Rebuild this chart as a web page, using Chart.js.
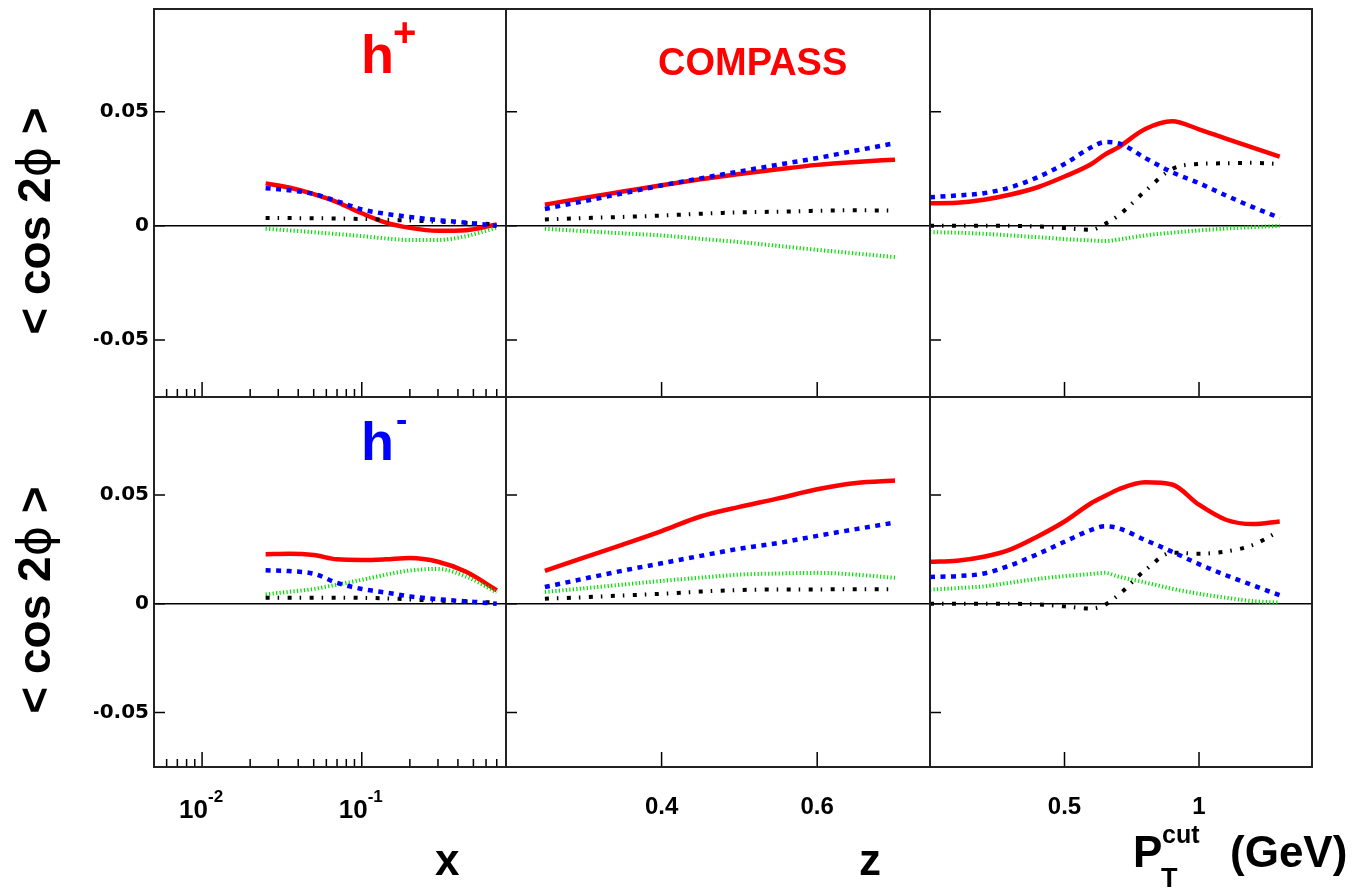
<!DOCTYPE html>
<html>
<head>
<meta charset="utf-8">
<script src="https://cdn.jsdelivr.net/npm/chart.js@4"></script>
<style>
  body { margin: 0; background: #fff; }
  #page { position: relative; width: 1352px; height: 890px; overflow: hidden;
          font-family: "Liberation Sans", Arial, sans-serif; font-weight: bold; }
  #page canvas { position: absolute; left: 0; top: 0; }
  .txt { position: absolute; line-height: 1; white-space: nowrap; }
  .ytitle { position: absolute; line-height: 1; white-space: nowrap; font-size: 46px;
            transform: translate(-50%, -50%) rotate(-90deg); }
  .ytitle .phi { font-family: "DejaVu Sans", sans-serif; font-weight: normal; }
</style>
</head>
<body>
<div id="page">
  <canvas id="p0" width="1352" height="890"></canvas>
  <canvas id="p1" width="1352" height="890"></canvas>
  <canvas id="p2" width="1352" height="890"></canvas>
  <canvas id="p3" width="1352" height="890"></canvas>
  <canvas id="p4" width="1352" height="890"></canvas>
  <canvas id="p5" width="1352" height="890"></canvas>

  <div class="txt" style="left:361px; top:27px; font-size:54px; color:#ff0000;">h</div>
  <div class="txt" style="left:393px; top:12px; font-size:40px; color:#ff0000;">+</div>
  <div class="txt" style="left:658px; top:43px; font-size:38px; color:#ff0000;">COMPASS</div>
  <div class="txt" style="left:361px; top:414px; font-size:54px; color:#0000ff;">h</div>
  <div class="txt" style="left:396px; top:402px; font-size:34px; color:#0000ff;">-</div>

  <div class="ytitle" style="left:34px; top:221px;">&lt; cos 2<span class="phi">ϕ</span> &gt;</div>
  <div class="ytitle" style="left:34px; top:600px;">&lt; cos 2<span class="phi">ϕ</span> &gt;</div>

  <div class="txt" style="left:435px; top:838px; font-size:44px;">x</div>
  <div class="txt" style="left:859px; top:838px; font-size:44px;">z</div>
  <div class="txt" style="left:1133px; top:830px; font-size:44px;">P</div>
  <div class="txt" style="left:1162px; top:822px; font-size:25px;">cut</div>
  <div class="txt" style="left:1161px; top:865px; font-size:27px;">T</div>
  <div class="txt" style="left:1230px; top:830px; font-size:44px;">(GeV)</div>
</div>
<script>
// ---- data ----
const xGrid  = [0.025, 0.035, 0.05, 0.07, 0.1, 0.14, 0.2, 0.3, 0.45, 0.7];
const zGrid  = [0.25, 0.30, 0.35, 0.40, 0.45, 0.50, 0.55, 0.60, 0.65, 0.70];
const ptGrid = [0, 0.1, 0.2, 0.3, 0.4, 0.5, 0.6, 0.65, 0.7, 0.8, 0.9, 1.0, 1.1, 1.2, 1.3];

// h+ vs x
const xPlusRed   = [0.0186, 0.0168, 0.0139, 0.0104, 0.0055, 0.0015, -0.0009, -0.0022, -0.0019, 0.0006];
const xPlusBlue  = [0.0165, 0.0156, 0.0140, 0.0108, 0.0072, 0.0053, 0.0039, 0.0025, 0.0014, 0.0000];
const xPlusBlack = [0.0034, 0.0034, 0.0033, 0.0032, 0.0030, 0.0027, 0.0023, 0.0018, 0.0013, 0.0007];
const xPlusGreen = [-0.0013, -0.0020, -0.0028, -0.0036, -0.0045, -0.0055, -0.0062, -0.0062, -0.0045, -0.0008];

// h+ vs z
const zPlusRed   = [0.0093, 0.0122, 0.0150, 0.0178, 0.0204, 0.0227, 0.0248, 0.0267, 0.0280, 0.0290];
const zPlusBlue  = [0.0074, 0.0108, 0.0142, 0.0177, 0.0208, 0.0238, 0.0268, 0.0297, 0.0330, 0.0362];
const zPlusBlack = [0.0028, 0.0034, 0.0039, 0.0045, 0.0053, 0.0059, 0.0062, 0.0066, 0.0068, 0.0067];
const zPlusGreen = [-0.0013, -0.0023, -0.0033, -0.0042, -0.0057, -0.0071, -0.0088, -0.0105, -0.0121, -0.0137];

// h+ vs PT cut
const ptPlusRed   = [0.0099, 0.0101, 0.0114, 0.0137, 0.0169, 0.0216, 0.0271, 0.0312, 0.0344, 0.0424, 0.0458, 0.0423, 0.0382, 0.0343, 0.0303];
const ptPlusBlue  = [0.0125, 0.0133, 0.0143, 0.0169, 0.0213, 0.0271, 0.0344, 0.0367, 0.0362, 0.0297, 0.0235, 0.0187, 0.0133, 0.0082, 0.0035];
const ptPlusBlack = [0.0000, 0.0000, 0.0000, 0.0000, -0.0003, -0.0010, -0.0017, 0.0008, 0.0045, 0.0152, 0.0249, 0.0271, 0.0274, 0.0276, 0.0271];
const ptPlusGreen = [-0.0028, -0.0030, -0.0035, -0.0042, -0.0050, -0.0058, -0.0064, -0.0067, -0.0060, -0.0042, -0.0030, -0.0020, -0.0012, -0.0006, 0.0000];

// h- vs x
const xMinusRed   = [0.0228, 0.0230, 0.0224, 0.0204, 0.0201, 0.0204, 0.0210, 0.0193, 0.0147, 0.0062];
const xMinusBlue  = [0.0154, 0.0150, 0.0138, 0.0096, 0.0068, 0.0052, 0.0034, 0.0021, 0.0011, 0.0000];
const xMinusBlack = [0.0028, 0.0028, 0.0028, 0.0028, 0.0027, 0.0025, 0.0020, 0.0014, 0.0011, 0.0005];
const xMinusGreen = [0.0043, 0.0055, 0.0068, 0.0088, 0.0110, 0.0133, 0.0153, 0.0160, 0.0125, 0.0052];

// h- vs z
const zMinusRed   = [0.0151, 0.0212, 0.0272, 0.0334, 0.0401, 0.0445, 0.0484, 0.0526, 0.0555, 0.0566];
const zMinusBlue  = [0.0077, 0.0115, 0.0152, 0.0186, 0.0220, 0.0253, 0.0279, 0.0312, 0.0343, 0.0373];
const zMinusBlack = [0.0023, 0.0030, 0.0038, 0.0046, 0.0056, 0.0063, 0.0066, 0.0066, 0.0067, 0.0067];
const zMinusGreen = [0.0054, 0.0071, 0.0088, 0.0105, 0.0120, 0.0134, 0.0139, 0.0142, 0.0134, 0.0119];

// h- vs PT cut
const ptMinusRed   = [0.0193, 0.0198, 0.0216, 0.0250, 0.0309, 0.0378, 0.0463, 0.0495, 0.0525, 0.0558, 0.0548, 0.0455, 0.0386, 0.0366, 0.0378];
const ptMinusBlue  = [0.0123, 0.0127, 0.0139, 0.0177, 0.0228, 0.0285, 0.0340, 0.0356, 0.0347, 0.0293, 0.0239, 0.0182, 0.0131, 0.0085, 0.0039];
const ptMinusBlack = [0.0000, 0.0000, 0.0000, 0.0000, -0.0003, -0.0012, -0.0022, -0.0005, 0.0040, 0.0154, 0.0235, 0.0230, 0.0240, 0.0270, 0.0336];
const ptMinusGreen = [0.0065, 0.0072, 0.0080, 0.0097, 0.0114, 0.0127, 0.0137, 0.0142, 0.0125, 0.0098, 0.0069, 0.0046, 0.0028, 0.0012, 0.0005];

// ticks
const yTickVals = [-0.05, 0, 0.05];
const xMajorTicks = [0.01, 0.1];
const xTickExponents = ['-2', '-1'];
const xMinorTicks = [0.005, 0.006, 0.007, 0.008, 0.009,
                     0.02, 0.03, 0.04, 0.05, 0.06, 0.07, 0.08, 0.09,
                     0.2, 0.3, 0.4, 0.5, 0.6, 0.7];
const zTicks = [0.4, 0.6];
const zTickLabels = ['0.4', '0.6'];
const ptTicks = [0.5, 1];
const ptTickLabels = ['0.5', '1'];

// ---- layout of the 2x3 frame grid (pixels) ----
const colEdges = [154, 506, 930, 1312];
const rowEdges = [9, 397, 767];
const Y_MIN = -0.075, Y_MAX = 0.095;

// line styles
const styleRed   = { borderColor: '#ff0000', borderWidth: 4.5, borderDash: [] };
const styleBlue  = { borderColor: '#0000ff', borderWidth: 4.5, borderDash: [5, 5.5] };
const styleBlack = { borderColor: '#000000', borderWidth: 4, borderDash: [4, 8, 1.5, 8.5] };
const styleGreen = { borderColor: '#00e000', borderWidth: 4, borderDash: [1.2, 2.3] };

// frame, zero line, inward tick marks and 10^n labels
const framePlugin = {
  id: 'frame',
  beforeDatasetsDraw(chart) {
    const { ctx, chartArea: a } = chart;
    const y0 = chart.scales.y.getPixelForValue(0);
    ctx.save();
    ctx.strokeStyle = '#000';
    ctx.lineWidth = 1.5;
    ctx.beginPath();
    ctx.moveTo(a.left, y0);
    ctx.lineTo(a.right, y0);
    ctx.stroke();
    ctx.restore();
  },
  afterDraw(chart, args, opts) {
    const { ctx, chartArea: a } = chart;
    const xs = chart.scales.x, ys = chart.scales.y;
    ctx.save();
    ctx.strokeStyle = '#000';
    ctx.lineWidth = 1.5;
    ctx.beginPath();
    yTickVals.forEach(v => {
      const py = ys.getPixelForValue(v);
      ctx.moveTo(a.left, py);
      ctx.lineTo(a.left + 11, py);
    });
    opts.major.forEach(v => {
      const px = xs.getPixelForValue(v);
      ctx.moveTo(px, a.bottom);
      ctx.lineTo(px, a.bottom - 15);
    });
    opts.minor.forEach(v => {
      const px = xs.getPixelForValue(v);
      ctx.moveTo(px, a.bottom);
      ctx.lineTo(px, a.bottom - 8);
    });
    ctx.stroke();
    ctx.lineWidth = 2;
    ctx.strokeStyle = '#222';
    ctx.strokeRect(a.left, a.top, a.right - a.left, a.bottom - a.top);

    // 10^n labels under the log axis
    if (opts.showPow) {
      ctx.fillStyle = '#000';
      ctx.textAlign = 'left';
      ctx.textBaseline = 'alphabetic';
      opts.major.forEach((v, i) => {
        const px = xs.getPixelForValue(v);
        ctx.font = 'bold 26px "Liberation Sans", Arial, sans-serif';
        const w = ctx.measureText('10').width;
        ctx.fillText('10', px - 23, a.bottom + 51);
        ctx.font = 'bold 17px "Liberation Sans", Arial, sans-serif';
        ctx.fillText(opts.expo[i], px - 23 + w, a.bottom + 35);
      });
    }
    ctx.restore();
  }
};

function series(grid, vals, style) {
  return Object.assign({
    data: grid.map((x, i) => ({ x: x, y: vals[i] })),
    pointRadius: 0,
    fill: false,
    borderCapStyle: 'butt',
    cubicInterpolationMode: 'monotone'
  }, style);
}

function makePanel(canvasId, col, row, p) {
  const L = colEdges[col], R = colEdges[col + 1];
  const T = rowEdges[row], B = rowEdges[row + 1];
  const showY = col === 0, showX = row === 1;
  const yW = showY ? 60 : 0, xH = showX ? 50 : 0;

  new Chart(document.getElementById(canvasId), {
    type: 'line',
    data: {
      datasets: [
        series(p.grid, p.blue, styleBlue),
        series(p.grid, p.black, styleBlack),
        series(p.grid, p.green, styleGreen),
        series(p.grid, p.red, styleRed)
      ]
    },
    options: {
      responsive: false,
      animation: false,
      layout: { padding: { left: L - yW, right: 1352 - R, top: T, bottom: 890 - B - xH } },
      plugins: {
        legend: { display: false },
        tooltip: { enabled: false },
        frame: { major: p.major, minor: p.minor, expo: p.expo || [], showPow: showX && !!p.expo }
      },
      scales: {
        x: {
          type: p.xType,
          min: p.xMin,
          max: p.xMax,
          position: 'bottom',
          grid: { display: false, drawTicks: false },
          border: { display: false },
          ticks: {
            display: showX && !p.expo,
            autoSkip: false,
            maxRotation: 0,
            padding: 26,
            color: '#000',
            font: { family: '"Liberation Sans", Arial, sans-serif', weight: 'bold', size: 24 },
            callback: (v, i) => (p.labels ? p.labels[i] : '')
          },
          afterBuildTicks: s => { s.ticks = p.major.map(v => ({ value: v })); },
          afterFit: s => { s.height = xH; s.paddingLeft = 0; s.paddingRight = 0; }
        },
        y: {
          type: 'linear',
          min: Y_MIN,
          max: Y_MAX,
          position: 'left',
          grid: { display: false, drawTicks: false },
          border: { display: false },
          ticks: {
            display: showY,
            padding: 5,
            color: '#000',
            font: { family: '"DejaVu Sans", sans-serif', weight: 'bold', size: 20 },
            callback: v => (v === 0 ? '0' : v.toFixed(2))
          },
          afterBuildTicks: s => { s.ticks = yTickVals.map(v => ({ value: v })); },
          afterFit: s => { s.width = yW; s.paddingTop = 0; s.paddingBottom = 0; }
        }
      }
    },
    plugins: [framePlugin]
  });
}

const xPanel  = { xType: 'logarithmic', xMin: 0.005, xMax: 0.8, major: xMajorTicks, minor: xMinorTicks, expo: xTickExponents };
const zPanel  = { xType: 'linear', xMin: 0.2, xMax: 0.745, major: zTicks, minor: [], labels: zTickLabels };
const ptPanel = { xType: 'linear', xMin: 0, xMax: 1.42, major: ptTicks, minor: [], labels: ptTickLabels };

makePanel('p0', 0, 0, Object.assign({ grid: xGrid, red: xPlusRed, blue: xPlusBlue, black: xPlusBlack, green: xPlusGreen }, xPanel));
makePanel('p1', 1, 0, Object.assign({ grid: zGrid, red: zPlusRed, blue: zPlusBlue, black: zPlusBlack, green: zPlusGreen }, zPanel));
makePanel('p2', 2, 0, Object.assign({ grid: ptGrid, red: ptPlusRed, blue: ptPlusBlue, black: ptPlusBlack, green: ptPlusGreen }, ptPanel));
makePanel('p3', 0, 1, Object.assign({ grid: xGrid, red: xMinusRed, blue: xMinusBlue, black: xMinusBlack, green: xMinusGreen }, xPanel));
makePanel('p4', 1, 1, Object.assign({ grid: zGrid, red: zMinusRed, blue: zMinusBlue, black: zMinusBlack, green: zMinusGreen }, zPanel));
makePanel('p5', 2, 1, Object.assign({ grid: ptGrid, red: ptMinusRed, blue: ptMinusBlue, black: ptMinusBlack, green: ptMinusGreen }, ptPanel));
</script>
</body>
</html>
